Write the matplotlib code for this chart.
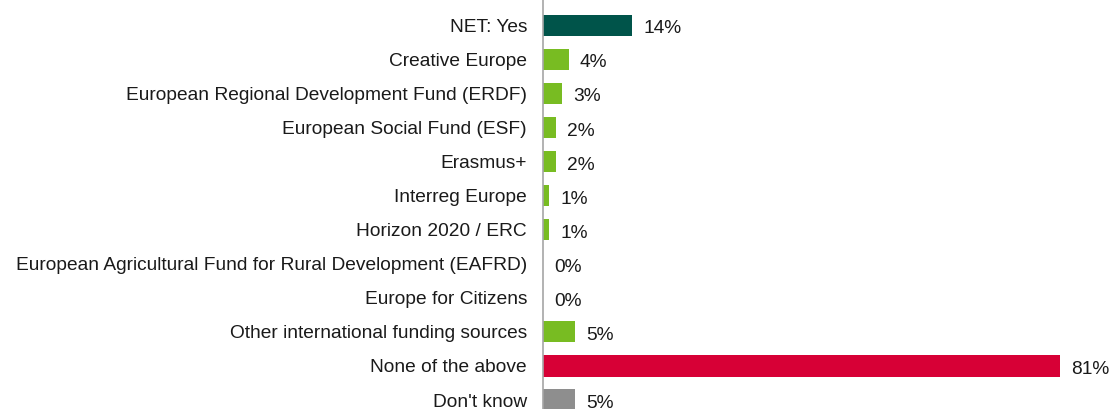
import matplotlib.pyplot as plt

plt.rcParams['font.family'] = ['Liberation Sans', 'DejaVu Sans']

categories = ["NET: Yes", "Creative Europe", "European Regional Development Fund (ERDF)",
              "European Social Fund (ESF)", "Erasmus+", "Interreg Europe", "Horizon 2020 / ERC",
              "European Agricultural Fund for Rural Development (EAFRD)", "Europe for Citizens",
              "Other international funding sources", "None of the above", "Don't know"]
values = [14, 4, 3, 2, 2, 1, 1, 0, 0, 5, 81, 5]
labels = ["14%", "4%", "3%", "2%", "2%", "1%", "1%", "0%", "0%", "5%", "81%", "5%"]

dark = "#00544A"
green = "#78BC22"
red = "#D70036"
grey = "#8E8E8E"
colors = [dark] + [green] * 9 + [red, grey]

fig = plt.figure(figsize=(11.12, 4.09), dpi=100)
ax = fig.add_axes([543 / 1112, 0, 569 / 1112, 1])

y = list(range(len(categories)))
ax.barh(y, values, height=0.62, color=colors)
for yi, v, lab in zip(y, values, labels):
    ax.text(v + 1.7, yi + 0.04, lab, va='center_baseline', ha='left', fontsize=13.8, color='#1a1a1a')

ax.set_xlim(0, 569 / 6.38)
ax.set_ylim(11.264, -0.749)
ax.set_yticks(y)
ax.set_yticklabels(categories, fontsize=13.8, color='#1a1a1a')
ax.tick_params(axis='y', length=0, pad=11.5)
ax.set_xticks([])
for s in ['top', 'right', 'bottom']:
    ax.spines[s].set_visible(False)
ax.spines['left'].set_color('#A6A6A6')
ax.spines['left'].set_linewidth(1.2)

fig.savefig("out.png", dpi=100)
